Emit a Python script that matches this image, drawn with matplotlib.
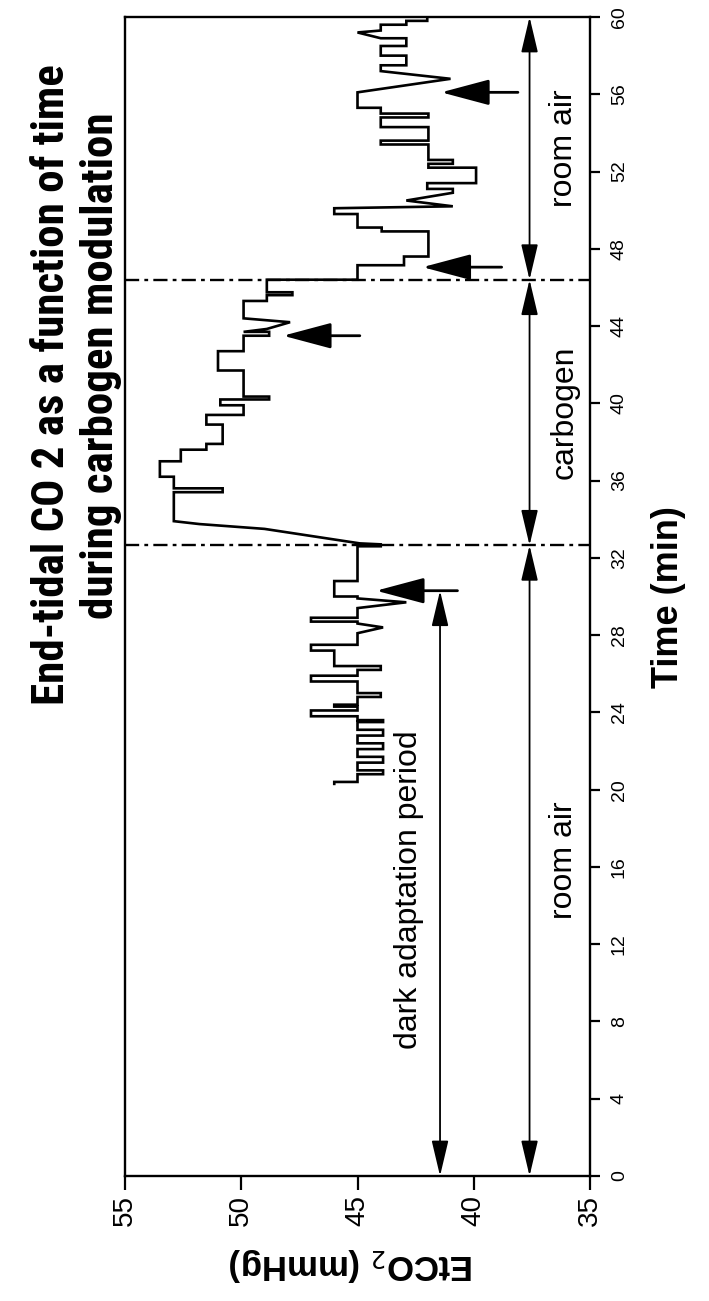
import matplotlib
matplotlib.use("Agg")
import matplotlib.pyplot as plt
from matplotlib import font_manager

# ---------------- data ----------------
time_min = [
    20.3, 20.4, 20.4,
    20.8, 20.8, 21.0, 21.0,
    21.4, 21.4, 21.7, 21.7,
    22.1, 22.1, 22.4, 22.4,
    22.8, 22.8, 23.1, 23.1,
    23.5, 23.5, 23.6, 23.6,
    23.8, 23.8, 24.1, 24.1,
    24.3, 24.3, 24.4, 24.4,
    24.8, 24.8, 25.0, 25.0,
    25.6, 25.6, 25.9, 25.9,
    26.2, 26.2, 26.4, 26.4,
    27.2, 27.2, 27.5, 27.5,
    28.1, 28.4, 28.6,
    28.7, 28.7, 28.9, 28.9,
    29.4, 29.7, 29.9,
    30.0, 30.0, 30.8, 30.8,
    32.6, 32.6, 32.7, 32.75,
    33.5, 33.75, 33.9,
    35.4, 35.4, 35.6, 35.6,
    36.2, 36.2, 37.0, 37.0,
    37.6, 37.6, 37.9, 37.9, 38.9, 38.9, 39.4, 39.4,
    39.9, 39.9, 40.2, 40.2, 40.35, 40.35,
    41.7, 41.7, 42.7, 42.7,
    43.5, 43.5, 43.7, 43.7, 43.85, 44.2, 44.4,
    45.3, 45.3, 45.6, 45.6, 45.75, 45.75,
    46.4, 46.4,
    47.15, 47.15, 47.6, 47.6, 48.9, 48.9, 49.1, 49.1,
    49.8, 49.8, 50.1, 50.2, 50.5, 50.9, 51.1, 51.1,
    51.4, 51.4, 52.2, 52.2, 52.4, 52.4, 52.6, 52.6,
    53.4, 53.4, 53.6, 53.6, 54.3, 54.3, 54.8, 54.8,
    55.0, 55.0, 55.3, 55.3, 56.1, 56.8, 57.2,
    57.5, 57.5, 58.0, 58.0, 58.5, 58.5, 58.9, 58.9,
    59.2, 59.3, 59.6, 59.6, 59.8, 59.8, 60.0,
]
etco2_mmhg = [
    46.0, 46.0, 45.0,
    45.0, 43.9, 43.9, 45.0,
    45.0, 43.9, 43.9, 45.0,
    45.0, 43.9, 43.9, 45.0,
    45.0, 43.9, 43.9, 45.0,
    45.0, 43.9, 43.9, 45.0,
    45.0, 47.0, 47.0, 45.0,
    45.0, 46.0, 46.0, 45.0,
    45.0, 44.0, 44.0, 45.0,
    45.0, 47.0, 47.0, 45.0,
    45.0, 44.0, 44.0, 46.0,
    46.0, 47.0, 47.0, 45.0,
    45.0, 43.9, 45.0,
    45.0, 47.0, 47.0, 45.0,
    45.0, 42.9, 45.0,
    45.0, 46.0, 46.0, 45.0,
    45.0, 44.0, 44.0, 44.9,
    49.0, 51.8, 52.9,
    52.9, 50.8, 50.8, 52.9,
    52.9, 53.5, 53.5, 52.6,
    52.6, 51.5, 51.5, 50.8, 50.8, 51.5, 51.5, 49.9,
    49.9, 50.9, 50.9, 48.8, 48.8, 49.9,
    49.9, 51.0, 51.0, 49.9,
    49.9, 48.8, 48.8, 49.9, 48.9, 47.9, 49.9,
    49.9, 48.9, 48.9, 47.8, 47.8, 48.9,
    48.9, 45.0,
    45.0, 43.0, 43.0, 41.95, 41.95, 43.96, 43.96, 45.0,
    45.0, 46.0, 46.0, 40.9, 42.9, 40.9, 40.9, 42.0,
    42.0, 39.9, 39.9, 41.95, 41.95, 40.9, 40.9, 41.95,
    41.95, 44.0, 44.0, 41.95, 41.95, 44.0, 44.0, 41.95,
    41.95, 44.0, 44.0, 45.0, 45.0, 41.0, 44.0,
    44.0, 42.9, 42.9, 44.0, 44.0, 42.9, 42.9, 44.0,
    45.0, 44.0, 44.0, 42.9, 42.9, 42.0, 42.0,
]

# phase boundaries (min)
carbogen_on = 32.65
carbogen_off = 46.4

etco2_ticks = [55, 50, 45, 40, 35]
time_ticks = list(range(0, 61, 4))

# marker arrows pointing at the trace: (time, tip value, tail value)
mark_times = [30.3, 43.5, 47.05, 56.1]
mark_tips = [44.2, 48.2, 42.2, 41.4]
mark_tails = [40.7, 44.9, 38.8, 38.1]

dark_adapt_end = 30.3

# ---------------- fonts ----------------
ttf = font_manager.fontManager.ttflist
avail = {f.name for f in ttf}
base = ['Liberation Sans', 'DejaVu Sans']
plt.rcParams['font.family'] = base

title_kw = dict(fontweight='bold')
narrow_names = [n for n in ['Liberation Sans Narrow', 'Roboto Condensed',
                            'Open Sans Condensed', 'DejaVu Sans Condensed'] if n in avail]
if narrow_names:
    title_kw['family'] = narrow_names + base
else:
    cond = [f for f in ttf if f.name == 'DejaVu Sans' and 'condensed' in str(f.stretch)]
    if cond:
        title_kw['family'] = ['DejaVu Sans']
        title_kw['fontstretch'] = 'condensed'
    else:
        title_kw['family'] = base

# ---------------- figure ----------------
W, H = 709, 1301
fig = plt.figure(figsize=(W / 100, H / 100), dpi=100)
fig.patch.set_facecolor('white')

L, R, T, B = 125, 590, 17, 1176
ax = fig.add_axes([L / W, (H - B) / H, (R - L) / W, (B - T) / H])
ax.set_xlim(55, 35)
ax.set_ylim(0, 60)

for s in ax.spines.values():
    s.set_linewidth(1.7)
    s.set_color('black')

ax.set_xticks(etco2_ticks)
ax.set_xticklabels([str(v) for v in etco2_ticks], rotation=90, fontsize=20)
ax.tick_params(axis='x', direction='out', length=10, width=1.6, pad=4)

ax.yaxis.tick_right()
ax.set_yticks(time_ticks)
ax.set_yticklabels([str(v) for v in time_ticks], rotation=90, fontsize=14,
                   va='center')
ax.tick_params(axis='y', direction='out', length=7, width=1.6, pad=8)

# trace
ax.plot(etco2_mmhg, time_min, color='black', lw=1.9, solid_joinstyle='miter')

# phase boundaries
for tb in (carbogen_on, carbogen_off):
    ax.axhline(tb, color='black', lw=1.7, linestyle=(0, (6, 2.2, 1.6, 2.2)))

# phase double arrows
xa = 37.6
dbl = dict(arrowstyle='<|-|>,head_length=1.1,head_width=0.26', color='black',
           lw=1.3, shrinkA=0, shrinkB=0, mutation_scale=20)
for t0, t1 in [(0, carbogen_on), (carbogen_on, carbogen_off), (carbogen_off, 60)]:
    ax.annotate('', xy=(xa, t1), xytext=(xa, t0), arrowprops=dbl)

# dark adaptation arrow
ax.annotate('', xy=(41.45, dark_adapt_end), xytext=(41.45, 0), arrowprops=dbl)

# marker arrows
sgl = dict(arrowstyle='-|>,head_length=1.5,head_width=0.4', color='black',
           lw=2.0, shrinkA=0, shrinkB=0, mutation_scale=20)
for tm, tip, tail in zip(mark_times, mark_tips, mark_tails):
    ax.annotate('', xy=(tip, tm), xytext=(tail, tm), arrowprops=sgl)

# phase labels
xt = 36.1
ax.text(xt, (carbogen_off + 60) / 2, 'room air', rotation=90, fontsize=23,
        ha='center', va='center')
ax.text(xt, (carbogen_on + carbogen_off) / 2, 'carbogen', rotation=90, fontsize=23,
        ha='center', va='center')
ax.text(xt, carbogen_on / 2, 'room air', rotation=90, fontsize=23,
        ha='center', va='center')
ax.text(42.8, 14.8, 'dark adaptation period', rotation=90, fontsize=23,
        ha='center', va='center')

# axis titles
t_time = fig.text(668 / W, 1 - 597 / H, 'Time (min)', rotation=90, fontsize=26,
                  fontweight='bold', ha='center', va='center')
t_et = fig.text(352 / W, 1 - 1264 / H, 'EtCO$_2$ (mmHg)', rotation=180, fontsize=25,
                fontweight='bold', ha='center', va='center')

# title (two lines, rotated)
t1 = fig.text(52 / W, 1 - 385 / H, 'End-tidal CO 2 as a function of time',
              rotation=90, fontsize=30, ha='center', va='center', **title_kw)
t2 = fig.text(101 / W, 1 - 366 / H, 'during carbogen modulation',
              rotation=90, fontsize=30, ha='center', va='center', **title_kw)

# scale title font so that line 1 spans ~640 px, like the reference
fig.canvas.draw()
rend = fig.canvas.get_renderer()
h1 = t1.get_window_extent(rend).height
fs = 30 * 640 / h1
t1.set_fontsize(fs)
t2.set_fontsize(fs)

fig.savefig('out.png', dpi=100, facecolor='white')
